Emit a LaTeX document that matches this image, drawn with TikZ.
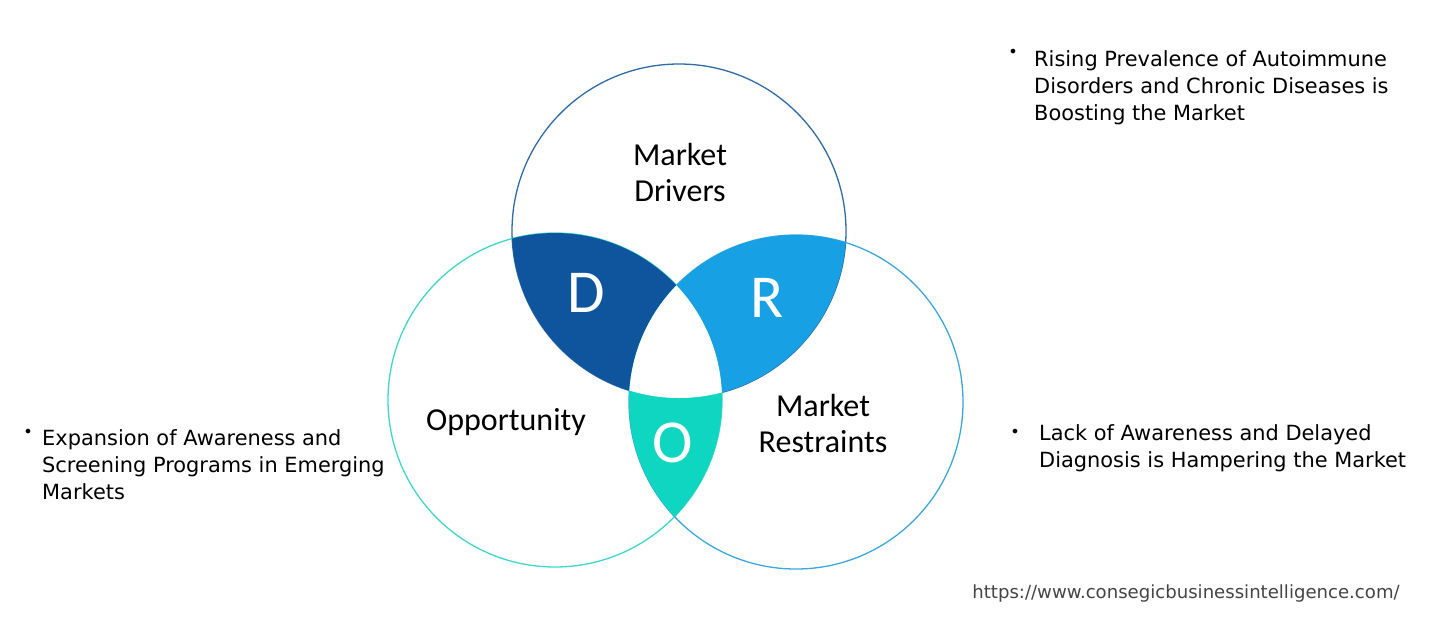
\documentclass[tikz,border=0pt]{standalone}
\usepackage{fontspec}
\setmainfont{DejaVu Sans}
\newfontfamily\calfont{Carlito}
\definecolor{Dcol}{RGB}{14,85,158}
\definecolor{Rcol}{RGB}{23,160,227}
\definecolor{Ocol}{RGB}{14,214,192}
\definecolor{topline}{RGB}{46,107,168}
\definecolor{leftline}{RGB}{62,216,200}
\definecolor{rightline}{RGB}{58,168,222}
\definecolor{urlgray}{RGB}{68,68,68}
\tikzset{
  ring/.style={line width=1.3pt},
  circtext/.style={font=\calfont\fontsize{32}{36}\selectfont, align=center, inner sep=0pt},
  bigletter/.style={font=\calfont\fontsize{61}{61}\selectfont, text=white, inner sep=0pt},
  bullettext/.style={font=\fontsize{20.9}{27}\selectfont, align=left, anchor=north west, inner sep=0pt},
  bulletdot/.style={font=\fontsize{16}{16}\selectfont, inner sep=0pt}
}
\begin{document}
\begin{tikzpicture}[x=1pt,y=-1pt]
\useasboundingbox (0,0) rectangle (1453,633);
\coordinate (ct) at (679,231);
\coordinate (cl) at (555,400);
\coordinate (cr) at (796,402);
% outlines
\draw[ring, topline] (ct) circle[radius=167pt];
\draw[ring, leftline] (cl) circle[radius=167pt];
\draw[ring, rightline] (cr) circle[radius=167pt];
% lenses
\begin{scope}
  \clip (ct) circle[radius=167pt];
  \fill[Dcol] (cl) circle[radius=167pt];
  \fill[Rcol] (cr) circle[radius=167pt];
\end{scope}
\begin{scope}
  \clip (cl) circle[radius=167pt];
  \fill[Ocol] (cr) circle[radius=167pt];
\end{scope}
\begin{scope}
  \clip (ct) circle[radius=167pt];
  \clip (cl) circle[radius=167pt];
  \fill[white] (cr) circle[radius=167pt];
\end{scope}
% circle labels
\node[circtext] (md) at (680,173) {Market\\Drivers};
\node[circtext] (op) at (506,422) {Opportunity};
\node[circtext] (mr) at (823,423) {Market\\Restraints};
\node[bigletter] (D) at (586,293) {D};
\node[bigletter] (R) at (767,298) {R};
\node[bigletter] (O) at (673,443) {O};
% bullet texts
\node[bulletdot] (b1) at (1013,53) {•};
\node[bullettext] (t1) at (1034,50) {Rising Prevalence of Autoimmune\\Disorders and Chronic Diseases is\\Boosting the Market};
\node[bulletdot] (b2) at (28,433) {•};
\node[bullettext] (t2) at (42,429) {Expansion of Awareness and\\Screening Programs in Emerging\\Markets};
\node[bulletdot] (b3) at (1015,433) {•};
\node[bullettext] (t3) at (1039,424) {Lack of Awareness and Delayed\\Diagnosis is Hampering the Market};
\node[font=\fontsize{18.1}{18.1}\selectfont, text=urlgray, inner sep=0pt] (url) at (1186,593) {https://www.consegicbusinessintelligence.com/};
\end{tikzpicture}
\end{document}
